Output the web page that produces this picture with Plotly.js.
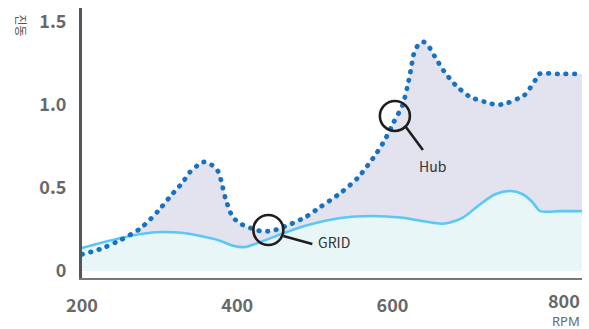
<!DOCTYPE html>
<html>
<head>
<meta charset="utf-8">
<script src="https://cdn.plot.ly/plotly-3.0.1.min.js"></script>
<style>
  html, body { margin: 0; padding: 0; background: #fff; }
  #chart { width: 589px; height: 329px; }
  .scatterlayer .js-line { stroke-linecap: round; }
</style>
</head>
<body>
<div id="chart"></div>
<script>
// RPM values and series
const hubRpm = [200,224,250,276,298,313,329,339,348,357,367,375,379,385,394,405,417,430,444,466,488,507,533,555,577,590,601,613,619,624,627,632,640,648,654,666,681,700,724,735,748,770,784,789,816,844];
const hubValues = [0.10,0.133,0.187,0.259,0.361,0.446,0.530,0.596,0.633,0.657,0.639,0.602,0.548,0.434,0.325,0.283,0.259,0.241,0.241,0.277,0.325,0.386,0.470,0.560,0.693,0.789,0.892,1.000,1.108,1.223,1.301,1.355,1.380,1.343,1.295,1.205,1.120,1.048,1.012,1.000,1.012,1.060,1.151,1.187,1.187,1.187];

const gridRpm = [200,224,250,276,302,331,353,375,396,411,430,460,491,533,572,610,642,665,690,710,732,752,767,780,790,816,844];
const gridValues = [0.139,0.169,0.199,0.223,0.235,0.229,0.211,0.187,0.151,0.145,0.175,0.229,0.277,0.319,0.331,0.322,0.298,0.285,0.320,0.392,0.462,0.482,0.464,0.416,0.361,0.361,0.361];

const xTickVals = [200, 400, 600];
const xTickText = ["200", "400", "600"];
const endTickText = "800";
const xUnit = "RPM";
const yTickVals = [0, 0.5, 1.0, 1.5];
const yTickText = ["0", "0.5", "1.0", "1.5"];
const yTitle = "진동";
const seriesNames = ["Hub", "GRID"];

const tickFont = {family: "'Noto Sans CJK KR', 'Noto Sans', sans-serif", size: 18, color: "#686868", weight: 700};
const labelFont = {family: "'Noto Sans CJK KR', 'Noto Sans', sans-serif", size: 14, color: "#333"};

const traces = [
  {x: hubRpm, y: hubValues, type: "scatter", mode: "lines", fill: "tozeroy",
   fillcolor: "#e3e2ef", line: {width: 0, shape: "spline", smoothing: 0.6, color: "rgba(0,0,0,0)"},
   hoverinfo: "skip", showlegend: false},
  {x: gridRpm, y: gridValues, type: "scatter", mode: "lines", fill: "tozeroy", name: seriesNames[1],
   fillcolor: "#e9f6f7", line: {width: 2.6, shape: "spline", smoothing: 0.8, color: "#5bc8f3"}},
  {x: hubRpm, y: hubValues, type: "scatter", mode: "lines", name: seriesNames[0],
   line: {width: 4.8, shape: "spline", smoothing: 0.6, color: "#1773c2", dash: "0.5px,8.2px"}}
];

// annotation anchors (on the curves)
const gridMark = {x: 440, y: 0.247};
const hubMark = {x: 603, y: 0.934};
const ring = (m, r) => ({type: "circle", xref: "x", yref: "y", xsizemode: "pixel", ysizemode: "pixel",
  xanchor: m.x, yanchor: m.y, x0: -r, x1: r, y0: -r, y1: r, line: {color: "#1e1e1e", width: 2.6}});
const stick = (m, a, b) => ({type: "line", xref: "x", yref: "y", xsizemode: "pixel", ysizemode: "pixel",
  xanchor: m.x, yanchor: m.y, x0: a[0], y0: a[1], x1: b[0], y1: b[1], line: {color: "#1e1e1e", width: 2.6}});

const layout = {
  width: 589, height: 329,
  margin: {l: 82, r: 7, t: 8, b: 51},
  paper_bgcolor: "#fff", plot_bgcolor: "#fff",
  showlegend: false,
  xaxis: {range: [200, 844], showgrid: false, zeroline: false, showline: true, linecolor: "#777", linewidth: 2,
          tickvals: xTickVals, ticktext: xTickText, ticks: "", tickfont: tickFont, ticklabelstandoff: 10},
  yaxis: {range: [-0.042, 1.584], showgrid: false, zeroline: false, showline: true, linecolor: "#555", linewidth: 3,
          tickvals: yTickVals, ticktext: yTickText, ticks: "", tickfont: tickFont, ticklabelstandoff: 9},
  shapes: [
    ring(gridMark, 15), stick(gridMark, [15, -6], [44, -14]),
    ring(hubMark, 15), stick(hubMark, [11, -11], [28, -34])
  ],
  annotations: [
    {x: gridMark.x, y: gridMark.y, xref: "x", yref: "y", text: seriesNames[1], showarrow: false,
     xanchor: "left", yanchor: "middle", xshift: 48, yshift: -12, font: labelFont},
    {x: hubMark.x, y: hubMark.y, xref: "x", yref: "y", text: seriesNames[0], showarrow: false,
     xanchor: "center", yanchor: "middle", xshift: 38, yshift: -50, font: labelFont},
    {x: 1, y: -0.083, xref: "paper", yref: "paper", text: endTickText, showarrow: false,
     xanchor: "right", yanchor: "middle", font: tickFont},
    {x: 1, y: -0.158, xref: "paper", yref: "paper", text: xUnit, showarrow: false,
     xanchor: "right", yanchor: "middle", font: {family: "'Noto Sans', sans-serif", size: 13, color: "#686868"}},
    {x: -0.122, y: 0.935, xref: "paper", yref: "paper", text: yTitle, showarrow: false, textangle: 90,
     xanchor: "center", yanchor: "middle", font: {family: "'Noto Sans CJK KR', sans-serif", size: 12, color: "#555"}}
  ]
};

Plotly.newPlot("chart", traces, layout, {displayModeBar: false, staticPlot: true});
</script>
</body>
</html>
